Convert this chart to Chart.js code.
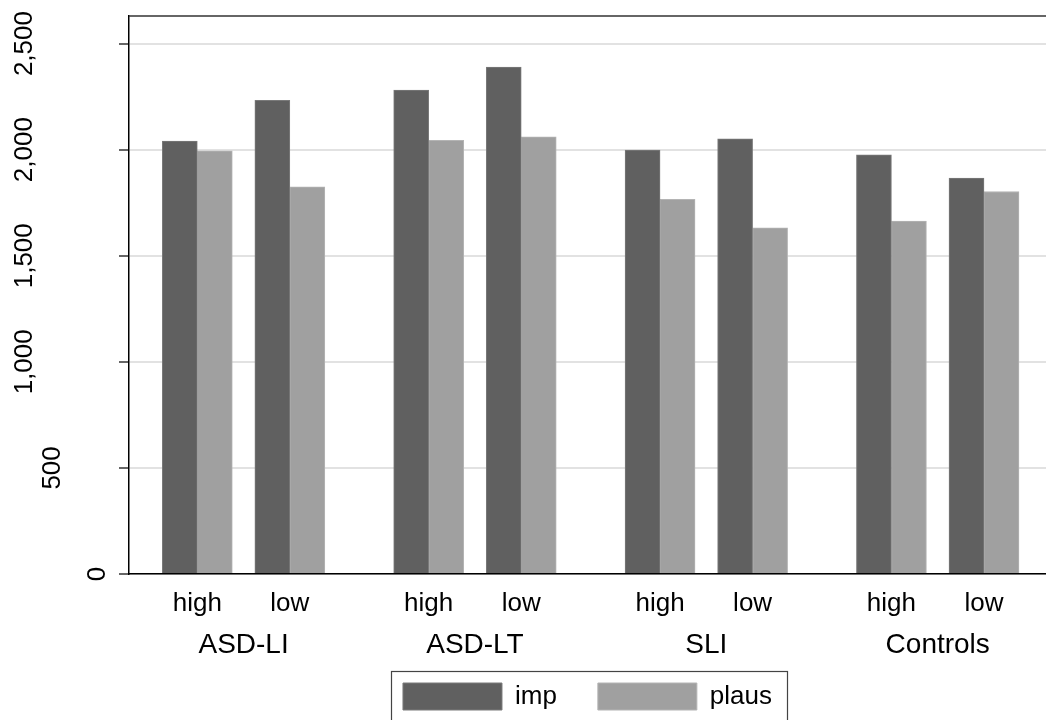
<!DOCTYPE html>
<html>
<head>
<meta charset="utf-8">
<script src="https://cdn.jsdelivr.net/npm/chart.js@4.4.1/dist/chart.umd.min.js"></script>
<style>
html,body{margin:0;padding:0;background:#fff;overflow:hidden}
#wrap{width:1046px;height:720px;position:relative}
</style>
</head>
<body>
<div id="wrap"><canvas id="c"></canvas></div>
<script>
// ---- data ----
const groups = ['ASD-LI', 'ASD-LT', 'SLI', 'Controls'];
const levels = ['high', 'low'];
const seriesNames = ['imp', 'plaus'];
const impValues = [2040, 2232, 2281, 2389, 1998, 2051, 1976, 1866];
const plausValues = [1995, 1825, 2044, 2061, 1766, 1632, 1663, 1803];
const yTickValues = [0, 500, 1000, 1500, 2000, 2500];

// ---- layout / style ----
const FONT = '"Liberation Sans", Arial, Helvetica, sans-serif';
const FS = 26;
const FS_GROUP = 28;
const GROUP_STEP = 2.5;
const X_MIN = -0.738, X_MAX = 9.17;
const Y_MAX = 2630;
const COLORS = ['#606060', '#a0a0a0'];
const BORDERS = ['#7a7a7a', '#b4b4b4'];

Chart.defaults.font.family = FONT;
Chart.defaults.font.size = FS;
Chart.defaults.color = '#000';

const barX = impValues.map((_, i) => Math.floor(i / levels.length) * GROUP_STEP + (i % levels.length));
const groupCenters = groups.map((_, g) => g * GROUP_STEP + (levels.length - 1) / 2);

const axisTweaks = {
  id: 'axisTweaks',
  beforeDraw(chart) {
    const ctx = chart.ctx;
    const y = chart.scales.y;
    ctx.save();
    ctx.font = FS + 'px ' + FONT;
    y.getLabelItems(chart.chartArea).forEach(it => {
      const w = ctx.measureText(String(it.label)).width;
      const cx = Math.max(y.left + 24.5, y.right - 9 - 1.557 * w);
      it.options.translation = [cx, it.options.translation[1]];
      it.options.textAlign = 'center';
      it.options.textBaseline = 'middle';
      it.textOffset = 0;
    });
    const x2 = chart.scales.x2;
    x2.getLabelItems(chart.chartArea).forEach(it => {
      it.options.translation = [it.options.translation[0], x2.top + 27.3];
      it.options.textBaseline = 'middle';
      it.textOffset = 0;
    });
    ctx.restore();
  },
  afterDraw(chart) {
    const ctx = chart.ctx;
    const a = chart.chartArea;
    ctx.save();
    ctx.strokeStyle = '#333';
    ctx.lineWidth = 1.5;
    ctx.beginPath();
    ctx.moveTo(a.left, a.top);
    ctx.lineTo(a.right + 2, a.top);
    ctx.stroke();
    const hb = chart.legend.legendHitBoxes;
    if (hb && hb.length) {
      const l = hb[0].left - 12;
      const t = hb[0].top - 12;
      const last = hb[hb.length - 1];
      const r = last.left + last.width + 15;
      ctx.strokeStyle = '#444';
      ctx.lineWidth = 1.2;
      ctx.strokeRect(Math.round(l) + 0.5, Math.round(t) + 0.5, Math.round(r - l), chart.height - t + 20);
    }
    ctx.restore();
  }
};

new Chart(document.getElementById('c'), {
  type: 'bar',
  data: {
    datasets: [
      { label: seriesNames[0], xAxisID: 'x', yAxisID: 'y',
        data: impValues.map((v, i) => ({ x: barX[i], y: v })),
        backgroundColor: COLORS[0], borderColor: BORDERS[0], borderWidth: 1 },
      { label: seriesNames[1], xAxisID: 'x', yAxisID: 'y',
        data: plausValues.map((v, i) => ({ x: barX[i], y: v })),
        backgroundColor: COLORS[1], borderColor: BORDERS[1], borderWidth: 1 }
    ]
  },
  options: {
    responsive: true,
    maintainAspectRatio: false,
    animation: false,
    devicePixelRatio: 1,
    barThickness: 35,
    layout: { padding: { top: 16, left: 0, right: 0, bottom: 0 } },
    plugins: {
      tooltip: { enabled: false },
      legend: {
        position: 'bottom',
        fullSize: false,
        labels: { boxWidth: 99, boxHeight: 27, padding: 41, color: '#000', font: { size: FS } }
      }
    },
    scales: {
      x: {
        type: 'linear', position: 'bottom', weight: 0,
        min: X_MIN, max: X_MAX, offset: false,
        grid: { display: false, drawTicks: false, offset: false },
        border: { display: true, color: '#000', width: 1.5 },
        afterBuildTicks: s => { s.ticks = barX.map(v => ({ value: v })); },
        ticks: { autoSkip: false, maxRotation: 0, minRotation: 0, padding: 14,
                 callback: (v, i) => levels[i % levels.length] },
        afterFit: s => { s.height = 44; }
      },
      x2: {
        type: 'linear', position: 'bottom', weight: 1,
        min: X_MIN, max: X_MAX, offset: false,
        grid: { display: false, drawTicks: false },
        border: { display: false },
        afterBuildTicks: s => { s.ticks = groupCenters.map(v => ({ value: v })); },
        ticks: { autoSkip: false, maxRotation: 0, minRotation: 0, mirror: true, padding: 0,
                 font: { size: FS_GROUP },
                 callback: (v, i) => groups[i] },
        afterFit: s => { s.height = 24; }
      },
      y: {
        type: 'linear', position: 'left',
        min: 0, max: Y_MAX,
        afterBuildTicks: s => { s.ticks = yTickValues.map(v => ({ value: v })); },
        ticks: { minRotation: 90, maxRotation: 90, padding: 0,
                 callback: v => v.toLocaleString('en-US') },
        grid: { color: '#e2e2e2', lineWidth: 2, drawTicks: true, tickLength: 10,
                tickColor: '#333', tickWidth: 1.5 },
        border: { display: true, color: '#000', width: 1.5 },
        afterFit: s => { s.width = 129; s.paddingTop = 0; s.paddingBottom = 0; }
      }
    }
  },
  plugins: [axisTweaks]
});
</script>
</body>
</html>
